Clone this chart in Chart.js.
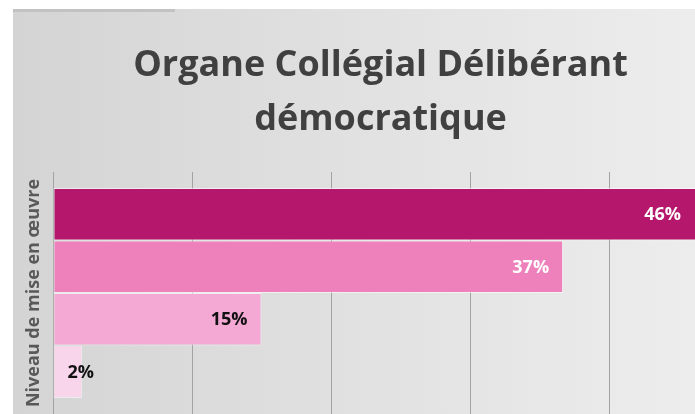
<!DOCTYPE html>
<html>
<head>
<meta charset="utf-8">
<script src="https://cdn.jsdelivr.net/npm/chart.js@4.4.1/dist/chart.umd.min.js"></script>
<style>
  html, body { margin: 0; padding: 0; background: #ffffff; overflow: hidden; }
  #wrap { position: relative; width: 695px; height: 414px; overflow: hidden; }
  canvas { display: block; }
</style>
</head>
<body>
<div id="wrap"><canvas id="c" width="757" height="414"></canvas></div>
<script>
// ---- data ----
const titleLines = ['Organe Collégial Délibérant', 'démocratique'];
const axisTitle = 'Niveau de mise en œuvre';
const categories = ['Organe Collégial Délibérant démocratique'];
const seriesNames = ['Niveau 1', 'Niveau 2', 'Niveau 3', 'Niveau 4'];
const seriesValues = [46.3, 36.7, 15, 2.1];
const seriesColors = ['#B4176B', '#EE80BB', '#F3A9D3', '#F8D5EA'];
const labelColors = ['#ffffff', '#ffffff', '#111111', '#111111'];
const xTicks = [0, 10, 20, 30, 40, 50];

const FONT = "'Open Sans', 'DejaVu Sans', sans-serif";

const bgPlugin = {
  id: 'bg',
  beforeDraw(chart) {
    const { ctx, width, height } = chart;
    ctx.save();
    ctx.fillStyle = '#ffffff';
    ctx.fillRect(0, 0, width, height);
    const g = ctx.createLinearGradient(13, 0, width, 0);
    g.addColorStop(0, '#d4d4d4');
    g.addColorStop(0.5, '#e2e2e2');
    g.addColorStop(1, '#efefef');
    ctx.fillStyle = g;
    ctx.fillRect(13, 9, width - 13, height - 9);
    ctx.fillStyle = '#c2c2c2';
    ctx.fillRect(13, 9, 162, 3);
    ctx.restore();
  }
};

const labelPlugin = {
  id: 'barLabels',
  afterDatasetsDraw(chart) {
    const { ctx } = chart;
    ctx.save();
    ctx.font = "700 18px " + FONT;
    ctx.textBaseline = 'middle';
    chart.data.datasets.forEach((ds, i) => {
      const meta = chart.getDatasetMeta(i);
      meta.data.forEach((bar, j) => {
        const txt = Math.round(ds.data[j]) + '%';
        const w = ctx.measureText(txt).width;
        ctx.fillStyle = labelColors[i];
        const right = Math.min(bar.x, chart.width - 62) - 14;
        if (right - w < bar.base + 14) {
          ctx.textAlign = 'left';
          ctx.fillText(txt, bar.base + 14, bar.y + 1);
        } else {
          ctx.textAlign = 'right';
          ctx.fillText(txt, right, bar.y + 1);
        }
      });
    });
    ctx.restore();
  }
};

new Chart(document.getElementById('c'), {
  type: 'bar',
  data: {
    labels: categories,
    datasets: seriesNames.map((n, i) => ({
      label: n,
      data: [seriesValues[i]],
      backgroundColor: seriesColors[i],
      borderColor: 'rgba(255,255,255,0.55)',
      borderWidth: 1,
      borderSkipped: false,
      categoryPercentage: 0.868,
      barPercentage: 1
    }))
  },
  options: {
    indexAxis: 'y',
    responsive: false,
    animation: false,
    layout: { padding: { left: 13, right: 9, top: 0, bottom: 0 } },
    plugins: {
      legend: { display: false },
      tooltip: { enabled: false },
      title: {
        display: true,
        text: titleLines,
        color: '#404040',
        font: { family: FONT, size: 36, weight: '700', lineHeight: 1.5 },
        padding: { top: 39, bottom: 25 }
      }
    },
    scales: {
      x: {
        min: 0,
        max: 50,
        afterBuildTicks(scale) { scale.ticks = xTicks.map(v => ({ value: v })); },
        ticks: { display: false },
        grid: { color: '#a3a3a3', lineWidth: 1, drawTicks: false },
        border: { display: false },
        afterFit(scale) { scale.height = 0; }
      },
      y: {
        ticks: { display: false },
        grid: { display: false, drawTicks: false },
        border: { display: false },
        title: {
          display: true,
          text: axisTitle,
          color: '#595959',
          font: { family: FONT, size: 18, weight: '700' },
          padding: { top: 10, bottom: 0 }
        },
        afterFit(scale) { scale.width = 40; }
      }
    }
  },
  plugins: [bgPlugin, labelPlugin]
});
</script>
</body>
</html>
